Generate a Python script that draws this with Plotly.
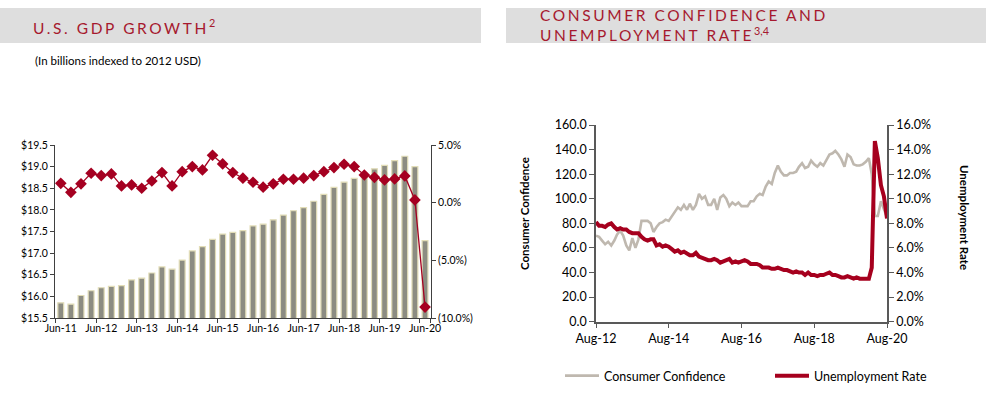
import plotly.graph_objects as go
import pandas as pd

W, H = 986, 397
def px(x): return x / W
def py(y): return 1 - y / H

RED = "#A6192E"
FONT = "Lato"

# ---------------- Left chart data (quarterly) ----------------
quarters = ["Jun-11", "Sep-11", "Dec-11", "Mar-12", "Jun-12", "Sep-12", "Dec-12", "Mar-13",
            "Jun-13", "Sep-13", "Dec-13", "Mar-14", "Jun-14", "Sep-14", "Dec-14", "Mar-15",
            "Jun-15", "Sep-15", "Dec-15", "Mar-16", "Jun-16", "Sep-16", "Dec-16", "Mar-17",
            "Jun-17", "Sep-17", "Dec-17", "Mar-18", "Jun-18", "Sep-18", "Dec-18", "Mar-19",
            "Jun-19", "Sep-19", "Dec-19", "Mar-20", "Jun-20"]
gdp_trillions = [15.85, 15.82, 16.02, 16.13, 16.20, 16.23, 16.25, 16.38, 16.42, 16.54,
                 16.68, 16.63, 16.84, 17.05, 17.15, 17.32, 17.44, 17.48, 17.52, 17.63,
                 17.67, 17.77, 17.88, 17.98, 18.05, 18.20, 18.36, 18.52, 18.64, 18.73,
                 18.85, 18.95, 19.03, 19.14, 19.24, 19.00, 17.29]
gdp_growth_pct = [1.68, 0.90, 1.63, 2.55, 2.35, 2.49, 1.45, 1.54, 1.25, 1.88,
                  2.61, 1.45, 2.69, 3.13, 2.84, 4.11, 3.36, 2.61, 2.12, 1.77,
                  1.34, 1.63, 2.03, 2.03, 2.12, 2.35, 2.69, 3.04, 3.33, 3.13,
                  2.40, 2.20, 1.97, 2.06, 2.32, 0.24, -9.05]
growth_tickvals = [5, 0, -5, -10]
growth_ticktext = ["5.0%", "0.0%", "(5.0%)", "(10.0%)"]

# ---------------- Right chart data (monthly Aug-12 .. Aug-20) ----------------
month_start, month_end = "2012-08-01", "2020-08-01"
consumer_confidence = [70, 69, 66, 63, 65, 62, 66, 71, 74, 70,
                       62, 58, 68, 60, 67, 82, 82, 82, 80, 73,
                       77, 80, 81, 83, 82, 86, 89, 93, 91, 95,
                       91, 96, 91, 95, 104, 100, 102, 95, 95, 100,
                       91, 101, 103, 100, 94, 97, 95, 97, 94, 94,
                       94, 98, 98, 102, 104, 103, 110, 114, 112, 121,
                       127, 122, 119, 119, 121, 121, 122, 126, 129, 125,
                       126, 131, 128, 126, 129, 127, 131, 136, 137, 139,
                       136, 132, 126, 136, 134, 128, 127, 127, 128, 130,
                       133, 120, 86, 86, 98, 92, 85]
unemployment_rate = [8.1, 7.8, 7.8, 7.7, 7.9,
                     8.0, 7.7, 7.5, 7.6, 7.5, 7.5, 7.3, 7.2, 7.2, 7.2, 6.9, 6.7,
                     6.6, 6.7, 6.7, 6.2, 6.3, 6.1, 6.2, 6.1, 5.9, 5.7, 5.8, 5.6,
                     5.7, 5.5, 5.4, 5.4, 5.6, 5.3, 5.2, 5.1, 5.0, 5.0, 5.1, 5.0,
                     4.8, 4.9, 5.0, 5.1, 4.8, 4.9, 4.8, 4.9, 5.0, 4.9, 4.7, 4.7,
                     4.7, 4.6, 4.4, 4.4, 4.4, 4.3, 4.3, 4.4, 4.3, 4.2, 4.2, 4.1,
                     4.0, 4.1, 4.0, 4.0, 3.8, 4.0, 3.8, 3.8, 3.7, 3.8, 3.8, 3.9,
                     4.0, 3.8, 3.8, 3.7, 3.6, 3.6, 3.7, 3.6, 3.5, 3.6, 3.5, 3.5,
                     3.5, 3.5, 4.4, 14.7, 13.3, 11.1, 10.2, 8.4]
date_ticks = ["2012-08-01", "2014-08-01", "2016-08-01", "2018-08-01", "2020-08-01"]

months = pd.date_range(month_start, month_end, freq="MS")
qidx = list(range(len(quarters)))
jun_idx = [i for i, q in enumerate(quarters) if q.startswith("Jun")]

fig = go.Figure()

fig.add_trace(go.Bar(x=qidx, y=gdp_trillions, xaxis="x", yaxis="y",
                     marker=dict(color="#8C8C82", line=dict(color="#E2DDB8", width=1.2)),
                     width=0.58, showlegend=False, hoverinfo="skip"))
fig.add_trace(go.Scatter(x=qidx, y=gdp_growth_pct, xaxis="x", yaxis="y2", mode="lines+markers",
                         line=dict(color="#A50021", width=1.3),
                         marker=dict(symbol="diamond", size=9, color="#A50021"),
                         showlegend=False, hoverinfo="skip"))

fig.add_trace(go.Scatter(x=months, y=consumer_confidence, xaxis="x3", yaxis="y3", mode="lines",
                         name="Consumer Confidence", line=dict(color="#BFB8AF", width=2.6)))
fig.add_trace(go.Scatter(x=months, y=unemployment_rate, xaxis="x3", yaxis="y4", mode="lines",
                         name="Unemployment Rate", line=dict(color="#A6001E", width=4)))

axis_col = "#404040"
tickfont_l = dict(family=FONT, size=10.5, color="#000")
tickfont_r = dict(family=FONT, size=12.5, color="#000")

fig.update_layout(
    template="none",
    width=W, height=H, margin=dict(l=0, r=0, t=0, b=0, pad=0, autoexpand=False),
    paper_bgcolor="white", plot_bgcolor="rgba(0,0,0,0)",
    bargap=0.4,
    xaxis=dict(domain=[px(55), px(431)], range=[-0.57, len(quarters) - 1 + 0.59],
               tickmode="array", tickvals=jun_idx, ticktext=[quarters[i] for i in jun_idx],
               ticks="", showline=True, linecolor=axis_col, linewidth=1, showgrid=False,
               zeroline=False, tickfont=tickfont_l, anchor="y", automargin=False,
               minor=dict(tickmode="array", tickvals=[i - 0.5 for i in jun_idx] + [len(quarters) - 0.5],
                          ticks="outside", ticklen=4, tickcolor=axis_col, showgrid=False)),
    yaxis=dict(domain=[py(318), py(145)], range=[15.5, 19.5], dtick=0.5, tickprefix="$",
               tickformat=".1f", ticks="outside", ticklen=4, tickcolor=axis_col,
               showline=True, linecolor=axis_col, linewidth=1, showgrid=False, zeroline=False,
               tickfont=tickfont_l, anchor="x", automargin=False),
    yaxis2=dict(overlaying="y", side="right", anchor="x", range=[-10, 5],
                tickmode="array", tickvals=growth_tickvals, ticktext=growth_ticktext,
                ticks="outside", ticklen=4, tickcolor=axis_col, showline=True,
                linecolor=axis_col, linewidth=1, showgrid=False, zeroline=False,
                tickfont=tickfont_l, automargin=False),
    xaxis3=dict(domain=[px(596), px(887)], range=[month_start, month_end], type="date",
                tickmode="array", tickvals=date_ticks, tickformat="%b-%y",
                ticks="outside", ticklen=5, tickcolor="#595959", showline=True,
                linecolor="#595959", linewidth=1.5, showgrid=False, zeroline=False,
                tickfont=tickfont_r, anchor="y3", automargin=False),
    yaxis3=dict(domain=[py(321.7), py(125)], range=[0, 160], dtick=20, tickformat=".1f",
                ticks="outside", ticklen=5, tickcolor="#595959", showline=True,
                linecolor="#595959", linewidth=1.5, showgrid=False, zeroline=False,
                tickfont=tickfont_r, anchor="x3", automargin=False),
    yaxis4=dict(overlaying="y3", side="right", anchor="x3", range=[0, 16], dtick=2,
                tickformat=".1f", ticksuffix="%", ticks="outside", ticklen=5,
                tickcolor="#595959", showline=True, linecolor="#595959", linewidth=1.5,
                showgrid=False, zeroline=False, tickfont=tickfont_r, automargin=False),
    legend=dict(orientation="h", x=px(560), y=py(376), xanchor="left", yanchor="middle",
                font=dict(family=FONT, size=12.5, color="#000"), entrywidth=161,
                itemwidth=34, bgcolor="rgba(0,0,0,0)"),
    shapes=[
        dict(type="rect", xref="paper", yref="paper", x0=px(0), x1=px(481), y0=py(43), y1=py(8),
             fillcolor="#DEDEDE", line=dict(width=0), layer="below"),
        dict(type="rect", xref="paper", yref="paper", x0=px(506), x1=px(986), y0=py(43), y1=py(8),
             fillcolor="#DEDEDE", line=dict(width=0), layer="below"),
    ],
)

def tracked(s):
    return '<span style="letter-spacing:2.6px">' + s + '</span>'

annotations = [
    dict(text=tracked("U.S. GDP GROWTH") + "<sup>2</sup>", x=px(31), y=py(26), xanchor="left",
         yanchor="middle", font=dict(family=FONT, size=15.5, color=RED)),
    dict(text=tracked("CONSUMER CONFIDENCE AND") + "<br>" + tracked("UNEMPLOYMENT RATE") + "<sup>3,4</sup>",
         x=px(538), y=py(25), xanchor="left", yanchor="middle", align="left",
         font=dict(family=FONT, size=15.5, color=RED)),
    dict(text="(In billions indexed to 2012 USD)", x=px(33), y=py(60), xanchor="left",
         yanchor="middle", font=dict(family=FONT, size=11.5, color="#000")),
    dict(text="<b>Consumer Confidence</b>", x=px(524), y=py(214), textangle=-90,
         xanchor="center", yanchor="middle", font=dict(family=FONT, size=11.5, color="#000")),
    dict(text="<b>Unemployment Rate</b>", x=px(965), y=py(217), textangle=90,
         xanchor="center", yanchor="middle", font=dict(family=FONT, size=11.5, color="#000")),
]
for a in annotations:
    a.update(xref="paper", yref="paper", showarrow=False)
fig.update_layout(annotations=annotations)

fig.write_html("out.html", config={"displayModeBar": False},
               post_script="document.body.style.margin='0';document.body.style.overflow='hidden';")
